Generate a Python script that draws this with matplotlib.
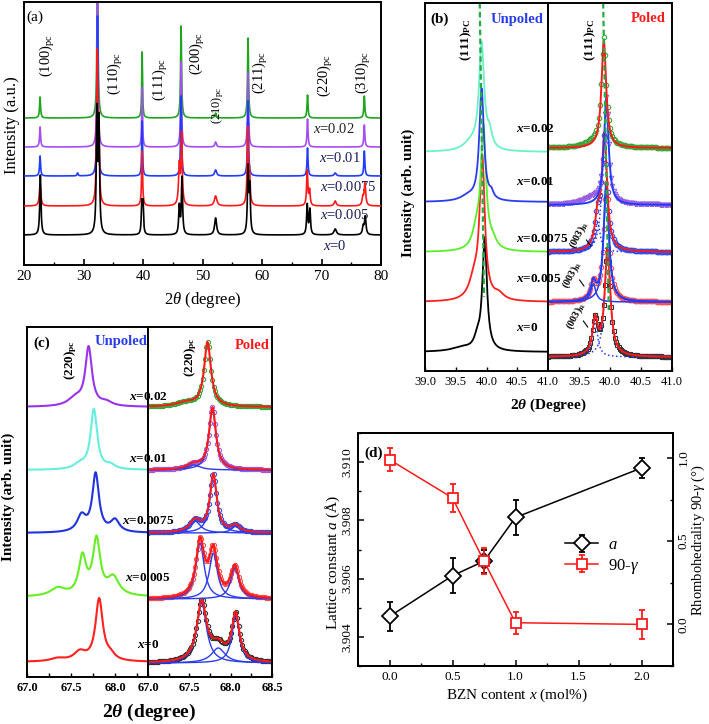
import numpy as np
import matplotlib
matplotlib.use('Agg')
import matplotlib.pyplot as plt
from matplotlib.ticker import MultipleLocator, FixedLocator

plt.rcParams['font.family'] = ['Liberation Serif', 'DejaVu Serif']
plt.rcParams['mathtext.fontset'] = 'custom'
plt.rcParams['mathtext.rm'] = 'Liberation Serif'
plt.rcParams['mathtext.it'] = 'Liberation Serif:italic'
plt.rcParams['mathtext.bf'] = 'Liberation Serif:bold'
plt.rcParams['mathtext.bfit'] = 'Liberation Serif:bold:italic'
plt.rcParams['xtick.direction'] = 'in'
plt.rcParams['ytick.direction'] = 'in'
plt.rcParams['axes.linewidth'] = 1.4

# ---------------- data ----------------
# peaks are (position, height, half width); heights in the panel's own y units
samples = ['0', '0.005', '0.0075', '0.01', '0.02']

# (a) full patterns
a_colors = ['black', '#ff1a1a', '#1f3cff', '#a64df2', '#1fa51f']
a_base = [30, 59, 89, 118, 147]
a_peaks = [
    [(22.75, 60, 0.12), (32.25, 120, 0.12), (32.6, 110, 0.12), (39.8, 30, 0.1), (40.0, 30, 0.1),
     (46.1, 28, 0.12), (46.55, 57, 0.12), (52.2, 17, 0.2), (57.65, 65, 0.12), (57.95, 45, 0.12),
     (67.6, 30, 0.12), (68.05, 25, 0.12), (72.3, 6, 0.25), (77.0, 8, 0.15), (77.35, 18, 0.15)],
    [(22.7, 22, 0.15), (32.3, 150, 0.12), (32.6, 50, 0.12), (39.85, 55, 0.1), (46.1, 40, 0.15),
     (46.5, 70, 0.12), (52.2, 10, 0.25), (57.6, 75, 0.12), (57.9, 30, 0.12), (67.6, 35, 0.12),
     (68.0, 15, 0.12), (72.3, 5, 0.2), (76.95, 8, 0.15), (77.3, 22, 0.15)],
    [(22.7, 20, 0.1), (29.0, 3, 0.1), (32.35, 160, 0.1), (39.85, 55, 0.08), (46.4, 80, 0.1),
     (52.2, 6, 0.2), (57.65, 75, 0.1), (67.65, 28, 0.1), (72.3, 3, 0.2), (77.2, 25, 0.1)],
    [(22.7, 20, 0.1), (32.35, 160, 0.1), (39.85, 60, 0.08), (46.4, 85, 0.1), (52.2, 5, 0.15),
     (57.65, 75, 0.1), (67.65, 28, 0.1), (77.2, 22, 0.1)],
    [(22.7, 21, 0.1), (32.35, 180, 0.1), (39.85, 66, 0.08), (46.4, 92, 0.1), (52.2, 5, 0.15),
     (57.65, 80, 0.1), (67.65, 23, 0.1), (77.2, 22, 0.1)],
]
a_hkl = ['(100)', '(110)', '(111)', '(200)', '(210)', '(211)', '(220)', '(310)']
a_hkl_x = [24.0, 35.3, 42.9, 49.1, 52.5, 59.7, 70.7, 77.1]
a_hkl_y = [210, 192, 186, 212, 160, 193, 190, 193]
a_lab_x = [70.3, 69.8, 69.8, 69.5, 68.65]
a_lab_y = [19, 50, 78, 107, 136]

# (b) (111) region, unpoled
b_unp_colors = ['black', '#ff2020', '#5cee2a', '#2a3cf0', '#6cf0c8']
b_unp_base = [19, 69, 119, 169, 219]
b_unp_peaks = [
    [(39.97, 112, 0.045), (39.85, 10, 0.06), (39.6, 4, 0.2)],
    [(39.93, 140, 0.05), (39.8, 20, 0.1), (40.2, 6, 0.1)],
    [(39.95, 120, 0.05), (39.84, 18, 0.08), (40.1, 8, 0.08)],
    [(39.92, 112, 0.045), (40.08, 6, 0.04), (39.7, 5, 0.15)],
    [(39.92, 105, 0.05), (40.05, 14, 0.05), (39.75, 8, 0.15)],
]
# (b) poled: markers, fit line colour, components
b_pol_mcolors = ['#333333', '#ff5050', '#3050ee', '#9a5fe0', '#3aa63a']
b_pol_markers = ['s', 'o', 'o', 'v', 'o']
b_pol_fitcolors = ['#ff1a1a', '#1f3cff', '#ff1a1a', '#1f3cff', '#ff1a1a']
b_pol_base = [14, 69, 119, 166, 223]
b_pol_peaks = [
    [(39.96, 106, 0.055), (39.76, 35, 0.05)],
    [(39.94, 118, 0.05), (39.73, 18, 0.05)],
    [(39.91, 115, 0.05), (39.8, 30, 0.05)],
    [(39.94, 106, 0.045), (39.7, 6, 0.2)],
    [(39.9, 108, 0.045), (39.75, 5, 0.2)],
]
b_lab_y = [43, 92, 132, 189, 242]
b_003_x = [39.45, 39.39, 39.5]
b_003_y = [55, 96, 136]

# (c) (220) region, unpoled
c_unp_colors = ['#ff2020', '#66ee22', '#2233dd', '#66eedd', '#9933ee']
c_unp_base = [15, 80, 144, 207, 270]
c_unp_peaks = [
    [(67.82, 62, 0.05), (67.6, 9, 0.08), (67.95, 5, 0.06), (67.35, 3, 0.1)],
    [(67.79, 55, 0.05), (67.63, 38, 0.05), (67.98, 18, 0.08), (67.35, 8, 0.1)],
    [(67.78, 58, 0.045), (67.62, 16, 0.06), (68.0, 12, 0.06)],
    [(67.76, 60, 0.045), (67.6, 5, 0.08), (67.95, 4, 0.06)],
    [(67.70, 58, 0.045), (67.55, 8, 0.1), (67.9, 4, 0.08)],
]
c_pol_mcolors = ['#333333', '#ff5050', '#3050ee', '#9a5fe0', '#3aa63a']
c_pol_base = [14, 78, 144, 207, 270]
c_pol_peaks = [
    [(67.65, 60, 0.07), (67.85, 15, 0.1), (68.06, 47, 0.055)],
    [(67.63, 56, 0.06), (67.79, 46, 0.06), (68.05, 31, 0.06)],
    [(67.57, 12, 0.08), (67.79, 58, 0.05), (68.06, 7, 0.06)],
    [(67.78, 62, 0.05), (67.55, 5, 0.1)],
    [(67.72, 64, 0.05), (67.45, 4, 0.15)],
]
c_lab_y = [32, 99, 156, 218, 280]

# (d) lattice parameters
d_x = [0.0, 0.5, 0.75, 1.0, 2.0]
d_a = [3.9047, 3.9061, 3.9066, 3.9081, 3.9098]
d_a_err = [0.0005, 0.0006, 0.0004, 0.0006, 0.00035]
d_rh = [0.99, 0.76, 0.38, 0.01, 0.0]
d_rh_err = [0.07, 0.085, 0.08, 0.065, 0.085]


def profile(x, peaks):
    y = np.zeros_like(x)
    for c, h, w in peaks:
        y += h / (1 + ((x - c) / w) ** 2)
    return y


def fpx(x0, y0, x1, y1):
    # figure rectangle from pixel corners
    return [x0 / 709, 1 - y1 / 724, (x1 - x0) / 709, (y1 - y0) / 724]


fig = plt.figure(figsize=(7.09, 7.24), dpi=100)

# ---------------- (a) ----------------
ax = fig.add_axes(fpx(24, 2, 381, 265))
xa = np.arange(20, 80.001, 0.01)
for i in range(5):
    ax.plot(xa, a_base[i] + profile(xa, a_peaks[i]), color=a_colors[i], lw=1.2, zorder=5 - i if i else 6)
ax.set_xlim(20, 80)
ax.set_ylim(0, 263)
ax.set_yticks([])
ax.xaxis.set_major_locator(MultipleLocator(10))
ax.xaxis.set_minor_locator(MultipleLocator(5))
ax.tick_params(axis='x', which='major', length=4, width=1.2, labelsize=11)
ax.tick_params(axis='x', which='minor', length=2.5, width=1.0)
for h, x, y in zip(a_hkl, a_hkl_x, a_hkl_y):
    fs = 9 if h == '(210)' else 10.5
    ax.text(x, y, h + '$_{\\rm pc}$', rotation=90, ha='center', va='center', fontsize=fs)
for i in range(5):
    c = '#222222' if i == 4 else '#1c1c5c'
    ax.text(a_lab_x[i], a_lab_y[i], '$x$=' + samples[i], fontsize=10.5, color=c, va='center', ha='left')
ax.text(21.9, 248, '(a)', fontsize=11, va='center', ha='center')
ax.set_ylabel('Intensity (a.u.)', fontsize=12)
ax.yaxis.set_label_coords(-0.011, 0.53)
ax.set_xlabel('2$\\theta$ (degree)', fontsize=12)
ax.xaxis.set_label_coords(0.5, -0.095)

# ---------------- (b) ----------------
axl = fig.add_axes(fpx(425, 3, 548, 371))
axr = fig.add_axes(fpx(548, 3, 672, 371))
xb = np.arange(39.0, 41.001, 0.005)
for i in range(5):
    axl.plot(xb, b_unp_base[i] + profile(xb, b_unp_peaks[i]), color=b_unp_colors[i], lw=1.3)
xm = np.arange(39.0, 41.001, 0.02)
for i in range(5):
    pk = b_pol_peaks[i]
    axr.plot(xm, b_pol_base[i] + profile(xm, pk), ls='none', marker=b_pol_markers[i], ms=3.2,
             mfc='none', mec=b_pol_mcolors[i], mew=0.8)
    if i <= 2:
        ls = '-' if i == 1 else ':'
        for p in pk:
            axr.plot(xb, b_pol_base[i] + profile(xb, [p]), color='#2a3cf0', lw=1.1, ls=ls)
    main = [p for p in pk if p[2] < 0.1]
    axr.plot(xb, b_pol_base[i] + profile(xb, main), color=b_pol_fitcolors[i], lw=1.4)
axl.plot([39.89, 39.96], [368, 74], color='#22aa44', lw=1.6, ls=(0, (2.5, 1.5)))
axr.plot([39.89, 39.98], [368, 61], color='#22aa44', lw=1.6, ls=(0, (2.5, 1.5)))
for a_ in (axl, axr):
    a_.set_xlim(39.0, 41.0)
    a_.set_ylim(0, 368)
    a_.set_yticks([])
    a_.xaxis.set_major_locator(MultipleLocator(0.5))
    a_.xaxis.set_major_formatter('{x:.1f}')
    a_.tick_params(axis='x', length=3, width=1.0, labelsize=9)
axr.xaxis.set_major_locator(FixedLocator([39.5, 40.0, 40.5, 41.0]))
axl.text(39.24, 352, '(b)', fontsize=11, fontweight='bold', ha='center', va='center')
axl.text(40.5, 352, 'Unpoled', fontsize=10.5, fontweight='bold', color='#2a3cf0', ha='center', va='center')
axr.text(40.61, 352, 'Poled', fontsize=10.5, fontweight='bold', color='#ff1a1a', ha='center', va='center')
axl.text(39.67, 331, '(111)$_{\\mathbf{PC}}$', rotation=90, fontsize=9.5, fontweight='bold', ha='center', va='center')
axr.text(39.68, 331, '(111)$_{\\mathbf{PC}}$', rotation=90, fontsize=9.5, fontweight='bold', ha='center', va='center')
for i in range(5):
    # labels straddle the divider, so they are put on the right-hand axes
    axr.text(38.48, b_lab_y[i], '$\\mathbfit{x}$=' + samples[i], fontsize=9.5, fontweight='bold',
             ha='left', va='center', clip_on=False, zorder=10)
for i in range(3):
    axr.text(b_003_x[i], b_003_y[i], '(003)$_{\\mathbf{R}}$', rotation=62, fontsize=7.5, fontweight='bold',
             ha='center', va='center')
    axr.plot([b_003_x[i] + 0.12, b_003_x[i] + 0.19], [b_003_y[i] - 5, b_003_y[i] - 11], color='black', lw=0.8)
fig.text(408 / 709, 1 - 193 / 724, 'Intensity (arb. unit)', rotation=90, fontsize=11, fontweight='bold',
         ha='center', va='center')
fig.text(548 / 709, 1 - 405 / 724, '2$\\mathbfit{\\theta}$ (Degree)', fontsize=11, fontweight='bold',
         ha='center', va='center')

# ---------------- (c) ----------------
cxl = fig.add_axes(fpx(27, 327, 148, 677))
cxr = fig.add_axes(fpx(148, 327, 272, 677))
xc = np.arange(67.0, 68.5001, 0.004)
for i in range(5):
    cxl.plot(xc, c_unp_base[i] + profile(xc, c_unp_peaks[i]), color=c_unp_colors[i], lw=1.5)
xcm = np.arange(67.0, 68.5001, 0.015)
for i in range(5):
    pk = c_pol_peaks[i]
    cxr.plot(xcm, c_pol_base[i] + profile(xcm, pk), ls='none', marker='o', ms=3.0,
             mfc='none', mec=c_pol_mcolors[i], mew=0.8)
    if i <= 3:
        for p in pk:
            cxr.plot(xc, c_pol_base[i] + profile(xc, [p]), color='#2a3cf0', lw=1.0)
    cxr.plot(xc, c_pol_base[i] + profile(xc, pk), color='#ff1a1a', lw=1.5)
cxl.set_xlim(67.0, 68.375)
cxr.set_xlim(67.0, 68.5)
for a_ in (cxl, cxr):
    a_.set_ylim(0, 350)
    a_.set_yticks([])
    a_.xaxis.set_major_locator(MultipleLocator(0.5))
    a_.xaxis.set_minor_locator(MultipleLocator(0.25))
    a_.xaxis.set_major_formatter('{x:.1f}')
    a_.tick_params(axis='x', which='both', length=3, width=1.0, labelsize=9)
    for t in a_.get_xticklabels():
        t.set_fontweight('bold')
cxl.text(67.17, 334, '(c)', fontsize=11, fontweight='bold', ha='center', va='center')
cxl.text(68.07, 336, 'Unpoled', fontsize=10.5, fontweight='bold', color='#2a3cf0', ha='center', va='center')
cxr.text(68.26, 332, 'Poled', fontsize=10.5, fontweight='bold', color='#ff1a1a', ha='center', va='center')
cxl.text(67.5, 317, '(220)$_{\\mathbf{pc}}$', rotation=90, fontsize=9.5, fontweight='bold', ha='center', va='center')
cxr.text(67.51, 320, '(220)$_{\\mathbf{pc}}$', rotation=90, fontsize=9.5, fontweight='bold', ha='center', va='center')
for i in range(5):
    cxr.text(67.0, c_lab_y[i], '$\\mathbfit{x}$=' + samples[i], fontsize=9.5, fontweight='bold',
             ha='center', va='center', clip_on=False, zorder=10)
fig.text(8 / 709, 1 - 497 / 724, 'Intensity (arb. unit)', rotation=90, fontsize=11, fontweight='bold',
         ha='center', va='center')
fig.text(149 / 709, 1 - 712 / 724, '2$\\mathbfit{\\theta}$ (degree)', fontsize=14, fontweight='bold',
         ha='center', va='center')

# ---------------- (d) ----------------
dx = fig.add_axes(fpx(358, 433, 673, 666))
dr = dx.twinx()
dx.errorbar(d_x, d_a, yerr=d_a_err, color='black', marker='D', ms=8, mfc='white', mec='black',
            mew=1.3, lw=1.1, capsize=2.5, elinewidth=1.3, label='$a$', zorder=3)
dr.errorbar(d_x, d_rh, yerr=d_rh_err, color='#ff1a1a', marker='s', ms=7, mfc='white', mec='#ff1a1a',
            mew=1.3, lw=1.1, capsize=2.5, elinewidth=1.3, label='90-$\\gamma$', zorder=3)
dx.set_xlim(-0.25, 2.25)
dx.set_ylim(3.903, 3.911)
dr.set_ylim(-0.25, 1.15)
dx.xaxis.set_major_locator(MultipleLocator(0.5))
dx.xaxis.set_minor_locator(MultipleLocator(0.25))
dx.yaxis.set_major_locator(MultipleLocator(0.002))
dx.yaxis.set_minor_locator(MultipleLocator(0.001))
dx.yaxis.set_major_formatter('{x:.3f}')
dr.yaxis.set_major_locator(MultipleLocator(0.5))
dr.yaxis.set_minor_locator(MultipleLocator(0.25))
dr.yaxis.set_major_formatter('{x:.1f}')
dx.xaxis.set_major_formatter('{x:.1f}')
dx.tick_params(which='major', length=4, width=1.1, labelsize=9.5)
dx.tick_params(which='minor', length=2.5, width=1.0)
dr.tick_params(which='major', length=4, width=1.1, labelsize=9.5)
dr.tick_params(which='minor', length=2.5, width=1.0)
for t in dx.get_yticklabels() + dr.get_yticklabels():
    t.set_rotation(90)
    t.set_va('center')
dx.text(-0.2, 3.9103, '(d)', fontsize=11, fontweight='bold', ha='left', va='center')
h1, l1 = dx.get_legend_handles_labels()
h2, l2 = dr.get_legend_handles_labels()
leg = dr.legend(h1 + h2, l1 + l2, loc='center left', bbox_to_anchor=(0.61, 0.47), frameon=False,
                fontsize=12, handlelength=2.0, handletextpad=0.6, labelspacing=0.2)
fig.text(333 / 709, 1 - 563 / 724, 'Lattice constant $a$ (Å)', rotation=90, fontsize=11,
         ha='center', va='center')
fig.text(698 / 709, 1 - 540 / 724, 'Rhombohedrality 90-$\\gamma$ (°)', rotation=90, fontsize=10.5,
         ha='center', va='center')
fig.text(517 / 709, 1 - 695 / 724, 'BZN content $x$ (mol%)', fontsize=11, ha='center', va='center')

fig.savefig('out.png', dpi=100)
